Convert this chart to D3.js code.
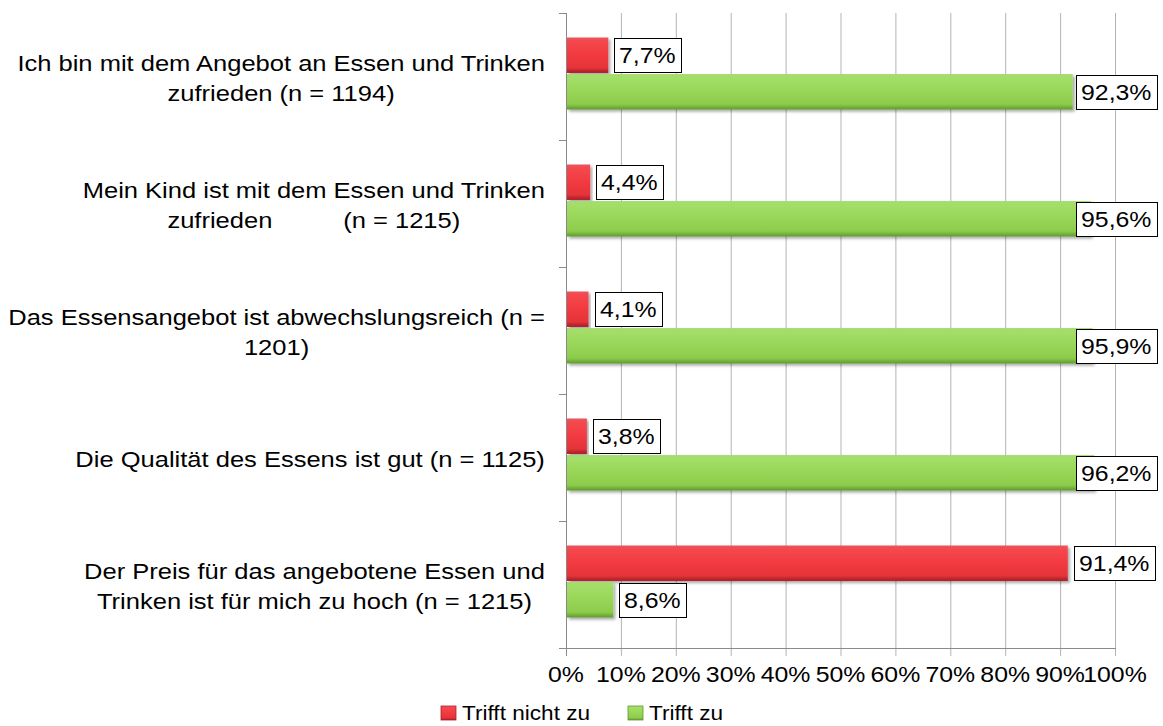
<!DOCTYPE html>
<html>
<head>
<meta charset="utf-8">
<script src="https://cdn.jsdelivr.net/npm/d3@7"></script>
<style>
  body { margin: 0; background: #fff; }
  text { font-family: "Liberation Sans", Arial, sans-serif; fill: #000; white-space: pre; }
</style>
</head>
<body>
<div id="app"></div>
<script>
const categories = [
  ["Ich bin mit dem Angebot an Essen und Trinken", "zufrieden (n = 1194)"],
  ["Mein Kind ist mit dem Essen und Trinken", "zufrieden          (n = 1215)"],
  ["Das Essensangebot ist abwechslungsreich (n =", "1201)"],
  ["Die Qualität des Essens ist gut (n = 1125)"],
  ["Der Preis für das angebotene Essen und", "Trinken ist für mich zu hoch (n = 1215)"]
];
const seriesNames = ["Trifft nicht zu", "Trifft zu"];
const trifftNichtZu = [7.7, 4.4, 4.1, 3.8, 91.4];
const trifftZu = [92.3, 95.6, 95.9, 96.2, 8.6];
const tickValues = [0, 10, 20, 30, 40, 50, 60, 70, 80, 90, 100];

const W = 1163, H = 726;
const SX = 1.13; // glyphs in the picture are a bit wider than the font
const SX_CAT = 1.16;

const svg = d3.select("#app").append("svg").attr("width", W).attr("height", H);

const defs = svg.append("defs");
const grad = (id, stops) => {
  const g = defs.append("linearGradient").attr("id", id)
    .attr("x1", 0).attr("y1", 0).attr("x2", 0).attr("y2", 1);
  stops.forEach(([o, c]) => g.append("stop").attr("offset", o).attr("stop-color", c));
};
grad("gRed", [[0, "#e8565b"], [0.12, "#f5474d"], [0.5, "#f23a40"], [0.85, "#e4343a"], [1, "#a81e24"]]);
grad("gGreen", [[0, "#a6dc70"], [0.12, "#a3de68"], [0.5, "#97d657"], [0.85, "#8ccb4c"], [1, "#5f9a2e"]]);
const f = defs.append("filter").attr("id", "shadow").attr("x", -0.1).attr("y", -0.3).attr("width", 1.2).attr("height", 1.8);
f.append("feDropShadow").attr("dx", 2).attr("dy", 2).attr("stdDeviation", 1.5)
  .attr("flood-color", "#000").attr("flood-opacity", 0.35);

const x = d3.scaleLinear().domain([0, 100]).range([566, 1115]);
const y = d3.scaleBand().domain(d3.range(categories.length)).range([13, 648]);
const inner = d3.scaleBand().domain([0, 1]).range([0, 72]).paddingInner(0.03);
const barOffset = (y.bandwidth() - 72) / 2 - 3;

const stext = (sel, tx, ty, sx = SX) => sel.attr("transform", `translate(${tx},${ty}) scale(${sx},1)`);

// grid
svg.append("g").selectAll("line").data(tickValues).join("line")
  .attr("x1", (d) => x(d) + 0.5).attr("x2", (d) => x(d) + 0.5)
  .attr("y1", 13).attr("y2", 656)
  .attr("stroke", (d) => (d === 0 ? "#8a8a8a" : "#b4b4b4")).attr("stroke-width", 1);

// x axis line
svg.append("line").attr("x1", 559).attr("x2", x(100) + 1)
  .attr("y1", 648.5).attr("y2", 648.5).attr("stroke", "#8a8a8a");

// y axis ticks at band boundaries
const bounds = d3.range(categories.length + 1).map((i) => (i < categories.length ? y(i) : y.range()[1]));
svg.append("g").selectAll("line").data(bounds).join("line")
  .attr("x1", 559).attr("x2", 566)
  .attr("y1", (d) => Math.round(d) + 0.5).attr("y2", (d) => Math.round(d) + 0.5)
  .attr("stroke", "#8a8a8a");

// tick labels
svg.append("g").selectAll("text").data(tickValues).join("text")
  .attr("text-anchor", "middle").attr("font-size", 22)
  .each(function (d) { stext(d3.select(this), x(d), 682); })
  .text((d) => d + "%");

// category labels
categories.forEach((lines, i) => {
  const cy = y(i) + y.bandwidth() / 2 + 1;
  const g = svg.append("g");
  const t = g.selectAll("text").data(lines).join("text")
    .attr("text-anchor", "middle").attr("font-size", 22).text((d) => d);
  let maxW = 0;
  t.each(function () { maxW = Math.max(maxW, this.getComputedTextLength() * SX_CAT); });
  const cx = 545 - maxW / 2;
  const lh = 30;
  const top = cy - (lines.length - 1) * lh / 2 + 8;
  t.each(function (d, j) { stext(d3.select(this), cx, top + j * lh, SX_CAT); });
});

// bars
const series = [trifftNichtZu, trifftZu];
const fills = ["url(#gRed)", "url(#gGreen)"];
const fmt = (v) => d3.format(".1f")(v).replace(".", ",") + "%";

series.forEach((vals, s) => {
  const g = svg.append("g");
  g.selectAll("rect").data(vals).join("rect")
    .attr("x", x(0) + 1)
    .attr("y", (d, i) => y(i) + barOffset + inner(s))
    .attr("width", (d) => x(d) - x(0) - 1)
    .attr("height", inner.bandwidth())
    .attr("fill", fills[s])
    .attr("filter", "url(#shadow)");

  vals.forEach((v, i) => {
    const cy = y(i) + barOffset + inner(s) + inner.bandwidth() / 2;
    const lg = svg.append("g");
    const box = lg.append("rect").attr("fill", "#fff").attr("stroke", "#000").attr("stroke-width", 1);
    const t = lg.append("text").attr("font-size", 22).text(fmt(v));
    const tw = t.node().getComputedTextLength() * SX;
    const bw = Math.round(tw + 10), bh = 34;
    const bx = Math.round(Math.min(x(v) + 6, 1157 - bw));
    box.attr("x", bx + 0.5).attr("y", Math.round(cy - bh / 2) + 0.5).attr("width", bw).attr("height", bh);
    stext(t, bx + 5, cy + 8);
  });
});

// legend
const legend = svg.append("g");
const legendX = [441, 628];
seriesNames.forEach((name, s) => {
  legend.append("rect").attr("x", legendX[s]).attr("y", 706).attr("width", 15).attr("height", 14)
    .attr("fill", fills[s]).attr("stroke", s === 0 ? "#b02028" : "#5f9a2e").attr("stroke-width", 0.8);
  stext(legend.append("text").attr("font-size", 20).text(name), legendX[s] + 21, 720);
});
</script>
</body>
</html>
